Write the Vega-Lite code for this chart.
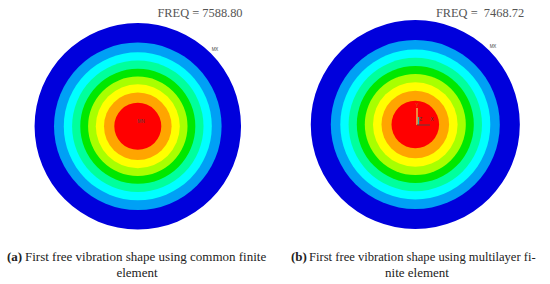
{"$schema":"https://vega.github.io/schema/vega-lite/v6.json","width":550,"height":284,"padding":0,"autosize":{"type":"fit","contains":"padding"},"background":"white","view":{"stroke":null},
"datasets":{
"rings":[
{"panel":"a","cx":137.8,"cy":126.3,"band":"b1","r":103.2},{"panel":"a","cx":137.8,"cy":126.3,"band":"b2","r":83.8},{"panel":"a","cx":137.8,"cy":126.3,"band":"b3","r":74},{"panel":"a","cx":137.8,"cy":126.3,"band":"b4","r":65.7},{"panel":"a","cx":137.8,"cy":126.3,"band":"b5","r":57.5},{"panel":"a","cx":137.8,"cy":126.3,"band":"b6","r":49.7},{"panel":"a","cx":137.8,"cy":126.3,"band":"b7","r":42},{"panel":"a","cx":137.8,"cy":126.3,"band":"b8","r":33.8},{"panel":"a","cx":137.8,"cy":126.3,"band":"b9","r":23.5},
{"panel":"b","cx":415.3,"cy":124.5,"band":"b1","r":104.5},{"panel":"b","cx":415.3,"cy":124.5,"band":"b2","r":84.5},{"panel":"b","cx":415.3,"cy":124.5,"band":"b3","r":75},{"panel":"b","cx":415.3,"cy":124.5,"band":"b4","r":66.7},{"panel":"b","cx":415.3,"cy":124.5,"band":"b5","r":58.5},{"panel":"b","cx":415.3,"cy":124.5,"band":"b6","r":50.5},{"panel":"b","cx":415.3,"cy":124.5,"band":"b7","r":42.3},{"panel":"b","cx":415.3,"cy":124.5,"band":"b8","r":33.8},{"panel":"b","cx":415.3,"cy":124.5,"band":"b9","r":23.8}
],
"freq":[{"x":200,"y":12.5,"t":"FREQ = 7588.80"},{"x":480,"y":12.5,"t":"FREQ = \u00a07468.72"}],
"capsA":[{"x":25,"y":256.5,"t":"First free vibration shape using common finite"}],
"capsB":[{"x":309,"y":256.5,"t":"First free vibration shape using multilayer fi-"}],
"capsb":[{"x":7,"y":256.5,"t":"(a)"},{"x":291,"y":256.5,"t":"(b)"}],
"caps2":[{"x":137,"y":272.5,"t":"element"},{"x":417,"y":272.5,"t":"nite element"}],
"tiny":[{"x":215,"y":49.5,"t":"MX"},{"x":141,"y":122,"t":"MN"},{"x":493,"y":47,"t":"MX"},{"x":432,"y":119.5,"t":"X"},{"x":420.5,"y":120,"t":"Z"}],
"tinyY":[{"x":417,"y":105,"t":"Y"}],
"axes":[{"x":417,"y":125,"x2":417,"y2":108,"c":"#e8d060"},{"x":418.5,"y":125,"x2":418.5,"y2":117,"c":"#30b0a0"},{"x":417,"y":125,"x2":430,"y2":125,"c":"#803030"}]
},
"encoding":{
"x":{"type":"quantitative","scale":{"domain":[0,550],"range":[0,550],"nice":false,"zero":false},"axis":null},
"y":{"type":"quantitative","scale":{"domain":[0,284],"range":[0,284],"nice":false,"zero":false},"axis":null}
},
"layer":[
{"data":{"name":"rings"},"mark":{"type":"arc","theta":0,"theta2":6.2832},"encoding":{
"x":{"field":"cx","type":"quantitative"},
"y":{"field":"cy","type":"quantitative"},
"radius":{"field":"r","type":"quantitative","stack":null,"scale":{"type":"linear","domain":[0,110],"range":[0,110]}},
"color":{"field":"band","type":"nominal","legend":null,"scale":{"domain":["b1","b2","b3","b4","b5","b6","b7","b8","b9"],"range":["#0000dc","#00a0f5","#00ffff","#00ff9c","#00e800","#a8ff00","#ffff00","#ffa500","#ff0000"]}}}},
{"data":{"name":"axes"},"mark":{"type":"rule","strokeWidth":1.3},"encoding":{"x":{"field":"x","type":"quantitative"},"y":{"field":"y","type":"quantitative"},"x2":{"field":"x2"},"y2":{"field":"y2"},"color":{"field":"c","type":"nominal","scale":null}}},
{"data":{"name":"freq"},"mark":{"type":"text","font":"Liberation Serif","fontSize":12.4,"color":"#555555","align":"center","baseline":"middle"},"encoding":{"x":{"field":"x","type":"quantitative"},"y":{"field":"y","type":"quantitative"},"text":{"field":"t"}}},
{"data":{"name":"capsA"},"mark":{"type":"text","font":"Liberation Serif","fontSize":13,"color":"#222222","align":"left","baseline":"middle"},"encoding":{"x":{"field":"x","type":"quantitative"},"y":{"field":"y","type":"quantitative"},"text":{"field":"t"}}},
{"data":{"name":"capsB"},"mark":{"type":"text","font":"Liberation Serif","fontSize":12.6,"color":"#222222","align":"left","baseline":"middle"},"encoding":{"x":{"field":"x","type":"quantitative"},"y":{"field":"y","type":"quantitative"},"text":{"field":"t"}}},
{"data":{"name":"capsb"},"mark":{"type":"text","font":"Liberation Serif","fontSize":13,"fontWeight":"bold","color":"#222222","align":"left","baseline":"middle"},"encoding":{"x":{"field":"x","type":"quantitative"},"y":{"field":"y","type":"quantitative"},"text":{"field":"t"}}},
{"data":{"name":"caps2"},"mark":{"type":"text","font":"Liberation Serif","fontSize":13,"color":"#222222","align":"center","baseline":"middle"},"encoding":{"x":{"field":"x","type":"quantitative"},"y":{"field":"y","type":"quantitative"},"text":{"field":"t"}}},
{"data":{"name":"tiny"},"mark":{"type":"text","font":"Liberation Sans","fontSize":4.5,"color":"#444444","align":"center","baseline":"middle"},"encoding":{"x":{"field":"x","type":"quantitative"},"y":{"field":"y","type":"quantitative"},"text":{"field":"t"}}},
{"data":{"name":"tinyY"},"mark":{"type":"text","font":"Liberation Sans","fontSize":5,"color":"#c86020","align":"center","baseline":"middle"},"encoding":{"x":{"field":"x","type":"quantitative"},"y":{"field":"y","type":"quantitative"},"text":{"field":"t"}}}
]}
